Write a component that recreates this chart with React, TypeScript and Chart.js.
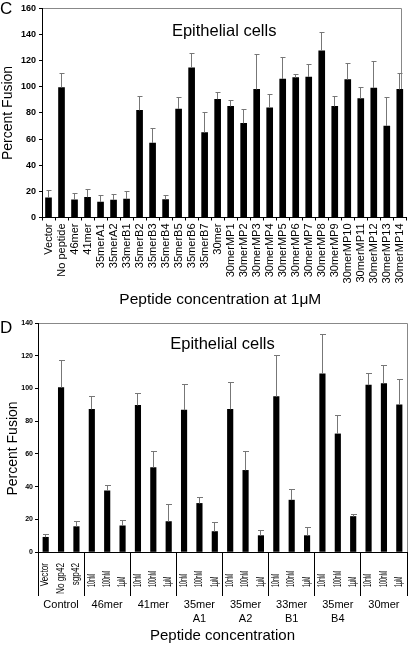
import React, { useEffect, useRef } from "react";
import { Chart, registerables } from "chart.js";

Chart.register(...registerables);

const FONT = "'Liberation Sans', Arial, Helvetica, sans-serif";
Chart.defaults.font.family = FONT;
Chart.defaults.color = "#000";

// ---------- Panel C data ----------
const cCategories = [
  "Vector", "No peptide", "46mer", "41mer", "35merA1", "35merA2", "33merB1",
  "35merB2", "35merB3", "35merB4", "35merB5", "35merB6", "35merB7", "30mer",
  "30merMP1", "30merMP2", "30merMP3", "30merMP4", "30merMP5", "30merMP6", "30merMP7",
  "30merMP8", "30merMP9", "30merMP10", "30merMP11", "30merMP12", "30merMP13", "30merMP14",
];
const cValues = [
  15, 99.5, 13.6, 15.5, 11.8, 13.3, 14,
  82, 57, 13.8, 83, 114.5, 65, 90.5,
  85, 72, 98, 84, 106, 107, 107.5,
  127.5, 85, 105.5, 91, 99, 70, 98,
];
const cErrors = [
  6, 11, 4.5, 5.8, 4.8, 4.5, 6,
  10.7, 11, 2.8, 9, 11, 15.5, 5,
  4.7, 10.5, 26.5, 10.3, 16.3, 2.5, 9.6,
  14.3, 7.8, 12, 8.3, 20, 22, 12,
];
const cYMax = 160;
const cYStep = 20;
const cTitle = "Epithelial cells";
const cXTitle = "Peptide concentration at 1\u03bcM";
const cYTitle = "Percent Fusion";

// ---------- Panel D data ----------
const dLabels = [
  "Vector", "No gp42", "sgp42",
  "10nM", "100nM", "1\u03bcM",
  "10nM", "100nM", "1\u03bcM",
  "10nM", "100nM", "1\u03bcM",
  "10nM", "100nM", "1\u03bcM",
  "10nM", "100nM", "1\u03bcM",
  "10nM", "100nM", "1\u03bcM",
  "10nM", "100nM", "1\u03bcM",
];
const dValues = [
  9, 100.5, 15.5,
  87.2, 37.4, 16,
  89.6, 51.6, 18.6,
  86.7, 29.7, 12.5,
  87.2, 49.9, 10,
  95, 31.7, 10,
  109, 72.2, 21.7,
  102, 103, 90,
];
const dErrors = [
  1.9, 16.5, 3.1,
  8.1, 3.5, 3,
  7, 10, 10.3,
  16, 3.4, 5.5,
  16.3, 11.7, 2.9,
  24.9, 6.3, 4.9,
  24.2, 11.5, 1.4,
  7.4, 11.3, 15.6,
];
const dGroups = [
  ["Control"], ["46mer"], ["41mer"], ["35mer", "A1"],
  ["35mer", "A2"], ["33mer", "B1"], ["35mer", "B4"], ["30mer"],
];
const dGroupSize = 3;
const dYMax = 140;
const dYStep = 20;
const dTitle = "Epithelial cells";
const dXTitle = "Peptide concentration";
const dYTitle = "Percent Fusion";

// ---------- plugins ----------
const align = (p: number) => Math.round(p - 0.5) + 0.5;

const framePlugin = {
  id: "frame",
  beforeDraw(chart: any, _a: any, opts: any) {
    const { ctx, chartArea: a } = chart;
    const inset = opts?.rightInset || 0;
    ctx.save();
    ctx.strokeStyle = opts?.color || "#888";
    ctx.lineWidth = 1;
    const l = align(a.left), t = align(a.top), r = align(a.right - inset), b = align(a.bottom);
    ctx.beginPath();
    ctx.moveTo(l, b);
    ctx.lineTo(l, t);
    ctx.lineTo(r, t);
    ctx.lineTo(r, b);
    ctx.stroke();
    ctx.restore();
  },
};

const errorBarsPlugin = {
  id: "errorBars",
  afterDatasetsDraw(chart: any, _a: any, opts: any) {
    const errs: number[] = opts?.errors;
    if (!errs) return;
    const { ctx } = chart;
    const meta = chart.getDatasetMeta(0);
    const ys = chart.scales.y;
    const vals = chart.data.datasets[0].data as number[];
    const cap = opts.cap || 2;
    ctx.save();
    ctx.strokeStyle = opts.color || "#777";
    ctx.lineWidth = 1;
    meta.data.forEach((bar: any, i: number) => {
      const e = errs[i];
      if (e == null) return;
      const x = align(bar.x);
      const yTop = align(ys.getPixelForValue(vals[i] + e));
      ctx.beginPath();
      ctx.moveTo(x, bar.y);
      ctx.lineTo(x, yTop);
      ctx.moveTo(x - cap, yTop);
      ctx.lineTo(x + cap + 1, yTop);
      ctx.stroke();
    });
    ctx.restore();
  },
};

const panelTextPlugin = {
  id: "panelText",
  afterDraw(chart: any, _a: any, opts: any) {
    if (!opts || !opts.letter) return;
    const { ctx, chartArea: a } = chart;
    ctx.save();
    ctx.fillStyle = "#000";
    ctx.textBaseline = "alphabetic";
    ctx.textAlign = "left";
    ctx.font = `17px ${FONT}`;
    ctx.fillText(opts.letter, 0, opts.letterBaseline);
    ctx.textAlign = "center";
    ctx.font = `16.5px ${FONT}`;
    ctx.fillText(opts.title, opts.titleX ?? (a.left + a.right) / 2, a.top + opts.titleDy);
    if (opts.xTitle) {
      ctx.font = `15.5px ${FONT}`;
      ctx.fillText(opts.xTitle, opts.xTitleX, opts.xTitleBaseline);
    }
    if (opts.yTitle) {
      ctx.save();
      ctx.translate(opts.yTitleX, (a.top + a.bottom) / 2 + opts.yTitleDy);
      ctx.rotate(-Math.PI / 2);
      ctx.textAlign = "center";
      ctx.textBaseline = "middle";
      ctx.font = `14px ${FONT}`;
      ctx.fillText(opts.yTitle, 0, 0);
      ctx.restore();
    }
    ctx.restore();
  },
};

const groupAxisPlugin = {
  id: "groupAxis",
  afterDraw(chart: any, _a: any, opts: any) {
    if (!opts || !opts.groups) return;
    const { ctx, chartArea: a } = chart;
    const xs = chart.scales.x;
    const labels = chart.data.labels as string[];
    const size: number = opts.groupSize;
    const groups: string[][] = opts.groups;
    ctx.save();
    ctx.fillStyle = "#000";
    labels.forEach((lab, i) => {
      const x = xs.getPixelForValue(i);
      const first = i < size;
      ctx.save();
      ctx.translate(x, a.bottom + (first ? 11 : 35));
      ctx.rotate(-Math.PI / 2);
      ctx.font = `10px ${FONT}`;
      ctx.textBaseline = "middle";
      if (first) {
        ctx.textAlign = "right";
        ctx.scale(0.82, 1);
      } else {
        ctx.textAlign = "left";
        ctx.scale(0.53, 1);
      }
      ctx.fillText(lab, 0, 0);
      ctx.restore();
    });
    ctx.strokeStyle = "#000";
    ctx.lineWidth = 1;
    const n = groups.length;
    for (let g = 0; g <= n; g++) {
      let xb: number;
      if (g === 0) xb = a.left;
      else if (g === n) xb = a.right;
      else xb = (xs.getPixelForValue(g * size - 1) + xs.getPixelForValue(g * size)) / 2;
      const px = align(xb);
      ctx.beginPath();
      ctx.moveTo(px, a.bottom + 1);
      ctx.lineTo(px, a.bottom + 44);
      ctx.stroke();
    }
    ctx.font = `11px ${FONT}`;
    ctx.textAlign = "center";
    ctx.textBaseline = "middle";
    groups.forEach((lines, g) => {
      const xc = (xs.getPixelForValue(g * size) + xs.getPixelForValue(g * size + size - 1)) / 2;
      lines.forEach((t, k) => ctx.fillText(t, xc, a.bottom + 53 + k * 14));
    });
    ctx.restore();
  },
};

// ---------- configs ----------
function configC(): any {
  return {
    type: "bar",
    data: {
      labels: cCategories,
      datasets: [{ data: cValues, backgroundColor: "#000", borderWidth: 0, barThickness: 6 }],
    },
    plugins: [framePlugin, errorBarsPlugin, panelTextPlugin],
    options: {
      responsive: false,
      maintainAspectRatio: false,
      animation: false,
      layout: { padding: { top: 5, right: 0, left: 0, bottom: 0 } },
      plugins: {
        legend: { display: false },
        tooltip: { enabled: false },
        frame: { color: "#888", rightInset: 5.3 },
        errorBars: { errors: cErrors, color: "#777", cap: 2 },
        panelText: {
          letter: "C", letterBaseline: 13.5, title: cTitle, titleDy: 27.4,
          xTitle: cXTitle, xTitleX: 220.3, xTitleBaseline: 304.3,
        },
      },
      scales: {
        x: {
          grid: { drawOnChartArea: false, drawTicks: true, tickLength: 3, color: "#000", offset: true },
          border: { color: "#000", width: 1 },
          ticks: {
            autoSkip: false, maxRotation: 90, minRotation: 90, padding: 3, color: "#000",
            font: { family: FONT, size: 11 },
          },
          afterFit: (s: any) => { s.height = 94.5; },
        },
        y: {
          min: 0, max: cYMax,
          ticks: { stepSize: cYStep, color: "#000", padding: 3, font: { family: FONT, size: 9, weight: "bold" } },
          grid: { drawOnChartArea: false, tickLength: 3, color: "#000" },
          border: { color: "#000", width: 1 },
          title: {
            display: true, text: cYTitle, color: "#000",
            font: { family: FONT, size: 14 }, padding: { top: 0, bottom: 0 },
          },
          afterFit: (s: any) => { s.width = 42; },
        },
      },
    },
  };
}

function configD(): any {
  return {
    type: "bar",
    data: {
      labels: dLabels,
      datasets: [{ data: dValues, backgroundColor: "#000", borderWidth: 0, barThickness: 5.5 }],
    },
    plugins: [framePlugin, errorBarsPlugin, panelTextPlugin, groupAxisPlugin],
    options: {
      responsive: false,
      maintainAspectRatio: false,
      animation: false,
      layout: { padding: { top: 11, right: 9, left: 0, bottom: 0 } },
      plugins: {
        legend: { display: false },
        tooltip: { enabled: false },
        frame: { color: "#888", rightInset: 0 },
        errorBars: { errors: dErrors, color: "#777", cap: 2.5 },
        panelText: {
          letter: "D", letterBaseline: 21.3, title: dTitle, titleDy: 26,
          yTitle: dYTitle, yTitleX: 13.5, yTitleDy: 11,
        },
        groupAxis: { groups: dGroups, groupSize: dGroupSize },
      },
      scales: {
        x: {
          grid: { drawOnChartArea: false, drawTicks: false },
          border: { color: "#000", width: 1 },
          ticks: { display: false },
          title: {
            display: true, text: dXTitle, color: "#000",
            font: { family: FONT, size: 15 }, padding: { top: 0, bottom: 0 },
          },
          afterFit: (s: any) => { s.height = 93; },
        },
        y: {
          min: 0, max: dYMax,
          ticks: { stepSize: dYStep, color: "#000", padding: 2, font: { family: FONT, size: 7, weight: "bold" } },
          grid: { drawOnChartArea: false, tickLength: 3, color: "#000" },
          border: { color: "#000", width: 1 },
          afterFit: (s: any) => { s.width = 38; },
        },
      },
    },
  };
}

function ChartCanvas(props: { make: () => any; top: number; width: number; height: number }) {
  const ref = useRef<HTMLCanvasElement | null>(null);
  useEffect(() => {
    if (!ref.current) return;
    const chart = new Chart(ref.current, props.make());
    return () => chart.destroy();
  }, []);
  return (
    <canvas
      ref={ref}
      width={props.width}
      height={props.height}
      style={{ position: "absolute", left: 0, top: props.top, width: props.width, height: props.height, display: "block" }}
    />
  );
}

export default function App() {
  useEffect(() => {
    document.body.style.margin = "0";
  }, []);
  return (
    <div style={{ position: "absolute", left: 0, top: 0, width: 416, height: 645, background: "#fff", overflow: "hidden" }}>
      <ChartCanvas make={configC} top={0} width={416} height={312} />
      <ChartCanvas make={configD} top={312} width={416} height={333} />
    </div>
  );
}
